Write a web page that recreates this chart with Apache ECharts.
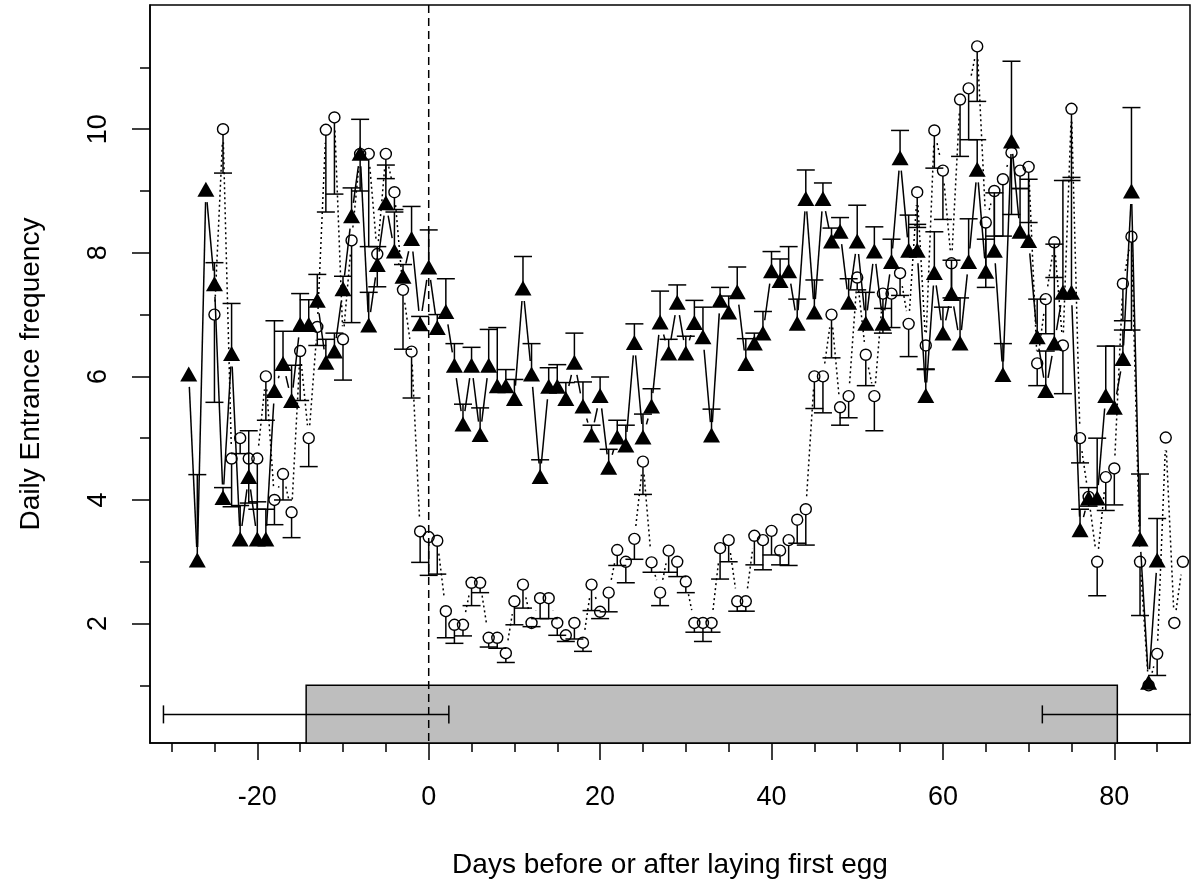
<!DOCTYPE html>
<html>
<head>
<meta charset="utf-8">
<script src="https://cdn.jsdelivr.net/npm/echarts@6/dist/echarts.min.js"></script>
<style>
  html, body { margin: 0; padding: 0; background: #fff; }
  #chart { width: 1191px; height: 887px; }
</style>
</head>
<body>
<div id="chart"></div>
<script>
// triangles: day -28 .. 85, mean and upper error bar
const triStart = -28;
const triMean = [
  6.04, 3.03, 9.03, 7.5, 4.04, 6.37, 3.37, 4.38, 3.37, 3.37,
  5.77, 6.21, 5.61, 6.84, 6.84, 7.23, 6.23, 6.41, 7.42, 8.6,
  9.61, 6.83, 7.81, 8.81, 8.03, 7.62, 8.23, 6.85, 7.77, 6.79,
  7.05, 6.18, 5.23, 6.18, 5.06, 6.18, 5.85, 5.85, 5.64, 7.43,
  6.04, 4.38, 5.84, 5.84, 5.64, 6.23, 5.52, 5.05, 5.69, 4.53,
  5.02, 4.89, 6.55, 5.02, 5.52, 6.88, 6.38, 7.2, 6.38, 6.87,
  6.64, 5.05, 7.23, 7.04, 7.37, 6.21, 6.54, 6.7, 7.71, 7.55,
  7.71, 6.86, 8.88, 7.04, 8.88, 8.19, 8.35, 7.2, 8.19, 6.86,
  8.03, 6.86, 7.86, 9.54, 8.04, 8.04, 5.69, 7.68, 6.70, 7.34,
  6.54, 7.86, 9.35, 7.7, 8.04, 6.03, 9.81, 8.35, 8.2, 6.64,
  5.77, 6.54, 7.36, 7.36, 3.52, 4.03, 4.03, 5.69, 5.5, 6.29,
  9.0, 3.37, 1.05, 3.03
];
const triUpper = [
  6.04, 4.41, 9.03, 7.84, 4.2, 7.18, 3.91, 5.12, 3.97, 3.85,
  6.9, 6.73, 6.18, 7.34, 7.24, 7.65, 6.6, 6.7, 7.62, 9.05,
  10.16, 7.36, 8.1, 9.42, 8.66, 7.81, 8.75, 6.97, 8.37, 7.0,
  7.58, 6.53, 5.55, 6.47, 5.49, 6.76, 6.79, 6.11, 5.95, 7.94,
  6.53, 4.65, 6.14, 6.19, 5.9, 6.7, 5.91, 5.21, 5.99, 4.82,
  5.29, 5.21, 6.85, 5.39, 5.8, 7.38, 6.6, 7.48, 6.65, 7.23,
  7.12, 5.47, 7.44, 7.3, 7.77, 6.61, 6.7, 7.05, 8.02, 7.9,
  8.1, 7.25, 9.34, 7.56, 9.13, 8.4, 8.57, 7.58, 8.77, 7.36,
  8.42, 7.1, 8.22, 9.98, 8.61, 8.46, 6.11, 8.34, 7.12, 7.88,
  7.27, 8.55, 9.83, 8.22, 8.97, 6.53, 11.1, 9.04, 9.19, 7.25,
  6.41, 8.14, 9.17, 9.22, 3.85, 4.2, 5.0, 6.49, 6.49, 6.75,
  10.35, 4.42, 1.05, 3.7
];

// circles: day -25 .. 88, mean and lower error bar
const circStart = -25;
const circMean = [
  7.0, 10.0, 4.67, 5.0, 4.67, 4.67, 6.0, 4.0, 4.42, 3.8,
  6.41, 5.0, 6.8, 9.99, 10.19, 6.6, 8.2, 9.6, 9.6, 7.98,
  9.6, 8.98, 7.4, 6.4, 3.49, 3.4, 3.34, 2.2, 1.98, 1.98,
  2.66, 2.66, 1.77, 1.77, 1.52, 2.36, 2.63, 2.01, 2.41, 2.41,
  2.01, 1.81, 2.01, 1.69, 2.63, 2.19, 2.5, 3.19, 3.0, 3.37,
  4.62, 2.99, 2.5, 3.18, 3.0, 2.68, 2.01, 2.01, 2.01, 3.22,
  3.35, 2.36, 2.36, 3.42, 3.35, 3.5, 3.18, 3.35, 3.68, 3.85,
  6.0, 6.0, 7.0, 5.5, 5.68, 7.6, 6.35, 5.68, 7.34, 7.34,
  7.67, 6.85, 8.98, 6.5, 9.98, 9.33, 7.83, 10.48, 10.66, 11.34,
  8.49, 9.0, 9.19, 9.62, 9.33, 9.39, 6.21, 7.25, 8.17, 6.5,
  10.33, 5.0, 4.05, 3.0, 4.37, 4.51, 7.5, 8.26, 3.0, 1.0,
  1.51, 5.01, 2.01, 3.0
];
const circLower = [
  5.58, 9.29, 3.89, 4.75, 3.95, 3.85, 5.29, 3.6, 4.0, 3.39,
  5.61, 4.54, 6.5, 8.66, 8.95, 5.94, 6.87, 9.0, 8.1, 7.45,
  9.2, 8.7, 6.44, 5.65, 2.99, 2.78, 2.8, 1.77, 1.68, 1.8,
  2.29, 2.5, 1.62, 1.6, 1.37, 1.98, 2.25, 1.95, 2.08, 2.08,
  1.81, 1.71, 1.75, 1.55, 2.21, 2.08, 2.19, 2.94, 2.66, 3.04,
  4.09, 2.83, 2.29, 2.83, 2.76, 2.5, 1.86, 1.71, 1.86, 2.72,
  3.0, 2.2, 2.2, 2.95, 2.87, 3.11, 2.95, 2.94, 3.3, 3.27,
  5.48, 5.41, 6.3, 5.21, 5.33, 7.4, 5.85, 5.12, 6.70, 6.79,
  7.31, 6.32, 8.41, 6.12, 9.37, 8.54, 7.27, 9.56, 9.83, 10.45,
  7.44, 8.27, 8.27, 8.62, 9.04, 8.49, 5.85, 6.69, 7.6, 5.72,
  9.17, 4.6, 3.9, 2.45, 3.83, 3.92, 6.9, 6.75, 2.13, 1.0,
  1.16, 5.01, 2.01, 3.0
];

// periods shown as grey boxes with horizontal sd bars
const periodStart = [-14.3];
const periodEnd = [80.35];
const periodHeight = 1.0;
const barY = 0.53;
const startSd = 16.65;
const endSd = 8.75;

const xMajor = [-20, 0, 20, 40, 60, 80];
const xMinor = [-30, -25, -15, -10, -5, 5, 10, 15, 25, 30, 35, 45, 50, 55, 65, 70, 75, 85];
const yMajor = [2, 4, 6, 8, 10];
const yMinor = [1, 3, 5, 7, 9, 11];

const X_MIN = -32.52, X_MAX = 88.83, Y_MIN = 0.067, Y_MAX = 12.01;
const GAP = 13;   // gap around points for type "b" lines
const CAP = 9;    // half width of error bar caps
const FONT = '"Liberation Sans", Arial, sans-serif';

const tri = triMean.map((v, i) => [triStart + i, v, triUpper[i]]);
const circ = circMean.map((v, i) => [circStart + i, v, circLower[i]]);

const blackLine = { stroke: '#000', lineWidth: 1.5 };

function gapLine(points, dash) {
  const segs = [];
  for (let i = 0; i < points.length - 1; i++) {
    segs.push([points[i][0], points[i][1], points[i + 1][0], points[i + 1][1]]);
  }
  return {
    type: 'custom', silent: true, z: 3,
    data: segs,
    encode: { x: [0, 2], y: [1, 3] },
    renderItem(params, api) {
      const a = api.coord([api.value(0), api.value(1)]);
      const b = api.coord([api.value(2), api.value(3)]);
      const dx = b[0] - a[0], dy = b[1] - a[1];
      const d = Math.sqrt(dx * dx + dy * dy);
      if (d <= 2 * GAP) return { type: 'group', children: [] };
      const ux = dx / d, uy = dy / d;
      return {
        type: 'line',
        shape: { x1: a[0] + ux * GAP, y1: a[1] + uy * GAP, x2: b[0] - ux * GAP, y2: b[1] - uy * GAP },
        style: Object.assign({ lineDash: dash }, blackLine)
      };
    }
  };
}

function errorBars(points, offset) {
  return {
    type: 'custom', silent: true, z: 4,
    data: points,
    encode: { x: 0, y: [1, 2] },
    renderItem(params, api) {
      const x = api.value(0), v = api.value(1), e = api.value(2);
      if (v === e) return { type: 'group', children: [] };
      const p = api.coord([x, v]);
      const q = api.coord([x, e]);
      const sign = q[1] > p[1] ? 1 : -1;
      return {
        type: 'group',
        children: [
          { type: 'line', shape: { x1: p[0], y1: p[1] + sign * offset, x2: q[0], y2: q[1] }, style: blackLine },
          { type: 'line', shape: { x1: q[0] - CAP, y1: q[1], x2: q[0] + CAP, y2: q[1] }, style: blackLine }
        ]
      };
    }
  };
}

const chart = echarts.init(document.getElementById('chart'), null, { renderer: 'canvas' });

const xCommon = { type: 'value', min: X_MIN, max: X_MAX, splitLine: { show: false }, position: 'bottom' };
const yCommon = { type: 'value', min: Y_MIN, max: Y_MAX, splitLine: { show: false }, position: 'left' };

chart.setOption({
  animation: false,
  backgroundColor: '#fff',
  grid: { left: 150, right: 1, top: 5, bottom: 144, show: true, borderColor: '#000', borderWidth: 1.5, backgroundColor: 'transparent' },
  xAxis: [
    Object.assign({}, xCommon, {
      name: 'Days before or after laying first egg',
      nameLocation: 'middle', nameGap: 108,
      nameTextStyle: { fontFamily: FONT, fontSize: 28, color: '#000' },
      axisLine: { show: true, onZero: false, lineStyle: { color: '#000', width: 1.5 } },
      axisTick: { show: true, customValues: xMajor, length: 17, lineStyle: { color: '#000', width: 1.5 } },
      axisLabel: { show: true, customValues: xMajor, margin: 41, fontFamily: FONT, fontSize: 27, color: '#000' }
    }),
    Object.assign({}, xCommon, {
      axisLine: { show: false, onZero: false },
      axisTick: { show: true, customValues: xMinor, length: 9, lineStyle: { color: '#000', width: 1.5 } },
      axisLabel: { show: false }
    })
  ],
  yAxis: [
    Object.assign({}, yCommon, {
      name: 'Daily Entrance frequency',
      nameLocation: 'middle', nameGap: 105,
      nameTextStyle: { fontFamily: FONT, fontSize: 28, color: '#000' },
      axisLine: { show: true, onZero: false, lineStyle: { color: '#000', width: 1.5 } },
      axisTick: { show: true, customValues: yMajor, length: 18, lineStyle: { color: '#000', width: 1.5 } },
      axisLabel: { show: true, customValues: yMajor, rotate: 90, margin: 38, fontFamily: FONT, fontSize: 27, color: '#000' }
    }),
    Object.assign({}, yCommon, {
      axisLine: { show: false, onZero: false },
      axisTick: { show: true, customValues: yMinor, length: 10, lineStyle: { color: '#000', width: 1.5 } },
      axisLabel: { show: false }
    })
  ],
  series: [
    // grey box for the laying/incubation period
    {
      type: 'custom', silent: true, z: 1,
      data: periodStart.map((s, i) => [s, periodEnd[i], periodHeight]),
      encode: { x: [0, 1], y: 2 },
      renderItem(params, api) {
        const a = api.coord([api.value(0), api.value(2)]);
        const b = api.coord([api.value(1), Y_MIN]);
        return {
          type: 'rect',
          shape: { x: a[0], y: a[1], width: b[0] - a[0], height: b[1] - a[1] },
          style: { fill: '#bebebe', stroke: '#000', lineWidth: 1.5 }
        };
      }
    },
    // horizontal sd bars of start and end
    {
      type: 'custom', silent: true, z: 2,
      data: [[periodStart[0], startSd, barY], [periodEnd[0], endSd, barY]],
      encode: { x: 0, y: 2 },
      renderItem(params, api) {
        const m = api.value(0), sd = api.value(1), y = api.value(2);
        const l = api.coord([m - sd, y]);
        const r = api.coord([m + sd, y]);
        return {
          type: 'group',
          children: [
            { type: 'line', shape: { x1: l[0], y1: l[1], x2: r[0], y2: r[1] }, style: blackLine },
            { type: 'line', shape: { x1: l[0], y1: l[1] - CAP, x2: l[0], y2: l[1] + CAP }, style: blackLine },
            { type: 'line', shape: { x1: r[0], y1: r[1] - CAP, x2: r[0], y2: r[1] + CAP }, style: blackLine }
          ]
        };
      }
    },
    // dashed line at first egg
    {
      type: 'custom', silent: true, z: 2,
      data: [[0]],
      encode: { x: 0 },
      renderItem(params, api) {
        const t = api.coord([api.value(0), Y_MAX]);
        const b = api.coord([api.value(0), Y_MIN]);
        return { type: 'line', shape: { x1: t[0], y1: t[1], x2: b[0], y2: b[1] }, style: { stroke: '#000', lineWidth: 1.5, lineDash: [8, 5] } };
      }
    },
    gapLine(tri, null),
    gapLine(circ, [2, 3]),
    errorBars(tri, 0),
    errorBars(circ, 5.5),
    {
      type: 'scatter', silent: true, z: 5,
      data: tri.map(p => [p[0], p[1]]),
      symbol: 'triangle', symbolSize: [17, 15],
      itemStyle: { color: '#000', opacity: 1 }
    },
    {
      type: 'scatter', silent: true, z: 6,
      data: circ.map(p => [p[0], p[1]]),
      symbol: 'circle', symbolSize: 11,
      itemStyle: { color: 'rgba(0,0,0,0)', borderColor: '#000', borderWidth: 1.4, opacity: 1 }
    }
  ]
});
</script>
</body>
</html>
